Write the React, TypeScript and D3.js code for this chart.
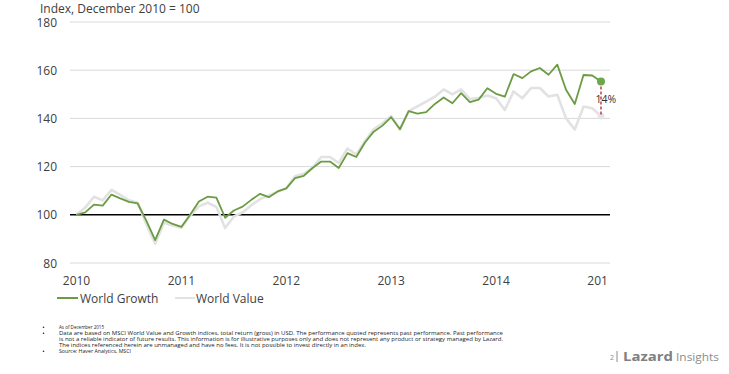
import React from 'react';
import * as d3 from 'd3';

const yearLabels = ['2010', '2011', '2012', '2013', '2014', '2015'];
const yTicks = [80, 100, 120, 140, 160, 180];

// monthly index values, Dec 2010 = 100
const worldGrowth = [
  100, 101, 104.2, 103.8, 108.4, 106.8, 105.4, 104.7, 97.5, 89.5,
  98, 96.2, 95, 100, 105.5, 107.5, 107.1, 98.8, 101.8, 103.4,
  106.2, 108.7, 107.3, 109.7, 111, 115.2, 116.2, 119.4, 122.1, 122.1,
  119.4, 125.6, 124, 130, 134.5, 137, 140.5, 135.5, 143, 142,
  142.6, 146, 148.7, 146.3, 150.5, 146.8, 147.8, 152.5, 150.2, 149,
  158.4, 156.7, 159.5, 160.9, 158.1, 162.3, 151.9, 146, 158, 157.8,
  155.3,
];
const worldValue = [
  100, 103, 107.5, 106, 110.4, 108.3, 106, 105, 96, 88,
  96.7, 95.6, 94.6, 99.6, 103.5, 105, 103.3, 94.5, 99.3, 101,
  104, 106.5, 108, 109.5, 111, 116, 117, 119.5, 124, 124,
  121.5, 127.5, 125, 130.5, 135.5, 138, 141, 135.5, 143, 145,
  147, 149, 152, 150, 152, 148, 148.5, 149.5, 148.4, 143.5,
  151.2, 148.4, 152.6, 152.6, 149.1, 149.8, 140, 135.4, 144.9, 144.2,
  141,
];
const spreadLabel = '14%';

const footnotes = [
  ['As of December 2015'],
  [
    'Data are based on MSCI World Value and Growth indices, total return (gross) in USD. The performance quoted represents past performance. Past performance',
    'is not a reliable indicator of future results. This information is for illustrative purposes only and does not represent any product or strategy managed by Lazard.',
    'The indices referenced herein are unmanaged and have no fees. It is not possible to invest directly in an index.',
  ],
  ['Source: Haver Analytics, MSCI'],
];
const footWidths = [[45], [444, 444, 307], [72]];

const W = 729;
const H = 374;
const GREEN = '#6b9c43';
const GRAY = '#e2e2e2';
const FONT = '"Open Sans", "Noto Sans", sans-serif';

export default function App() {
  const x = d3.scaleLinear().domain([0, worldGrowth.length - 1]).range([76.5, 601]);
  const y = d3.scaleLinear().domain([80, 180]).range([263, 22]);

  const line = d3
    .line<number>()
    .x((_, i) => x(i))
    .y((d) => y(d));

  const last = worldGrowth.length - 1;
  let lineNo = 0;

  return (
    <div style={{ position: 'absolute', left: 0, top: 0 }}>
      <svg width={W} height={H} style={{ display: 'block', background: '#fff' }} fontFamily={FONT}>
        <defs>
          <clipPath id="xclip">
            <rect x={0} y={0} width={606} height={H} />
          </clipPath>
        </defs>

        <text x={40} y={13} fontSize={12} fill="#404040">
          Index, December 2010 = 100
        </text>

        {/* grid + y labels */}
        {yTicks.map((t) => (
          <g key={t}>
            <line
              x1={70}
              x2={610}
              y1={y(t)}
              y2={y(t)}
              stroke={t === 100 ? '#000' : '#d9d9d9'}
              strokeWidth={t === 100 ? 1.5 : 1}
            />
            <text x={57} y={y(t) + 4.5} textAnchor="end" fontSize={12} fill="#404040">
              {t}
            </text>
          </g>
        ))}

        {/* x labels */}
        <g clipPath="url(#xclip)">
          {yearLabels.map((lab, k) => (
            <text key={lab} x={x(k * 12)} y={285} textAnchor="middle" fontSize={12} fill="#404040">
              {lab}
            </text>
          ))}
        </g>

        <path d={line(worldValue) || ''} fill="none" stroke={GRAY} strokeWidth={2.6} strokeLinejoin="round" />
        <path d={line(worldGrowth) || ''} fill="none" stroke={GREEN} strokeWidth={1.8} strokeLinejoin="round" />

        {/* spread annotation */}
        <circle cx={x(last)} cy={y(worldValue[last])} r={3.5} fill="#e6e6e6" />
        <text x={595.5} y={103} fontSize={10.5} fill="#333">
          {spreadLabel}
        </text>
        <line
          x1={x(last)}
          x2={x(last)}
          y1={y(worldGrowth[last])}
          y2={y(worldValue[last])}
          stroke="#a3112e"
          strokeWidth={1.2}
          strokeDasharray="3,2"
        />
        <circle cx={x(last)} cy={y(worldGrowth[last])} r={4} fill="#6aa84a" />

        {/* legend */}
        <line x1={57} x2={78} y1={298} y2={298} stroke={GREEN} strokeWidth={2} />
        <text x={80} y={302.5} fontSize={12} fill="#404040">
          World Growth
        </text>
        <line x1={175} x2={195} y1={298} y2={298} stroke={GRAY} strokeWidth={2} />
        <text x={196} y={302.5} fontSize={12} fill="#404040">
          World Value
        </text>

        {/* footnotes */}
        {footnotes.map((block, b) => (
          <g key={b}>
            <circle cx={43.5} cy={327.3 + lineNo * 6} r={0.8} fill="#222" />
            {block.map((ln, j) => {
              const yy = 329 + lineNo * 6;
              lineNo += 1;
              return (
                <text
                  key={j}
                  x={59}
                  y={yy}
                  fontSize={5}
                  fill="#222"
                  textLength={footWidths[b][j]}
                  lengthAdjust="spacingAndGlyphs"
                >
                  {ln}
                </text>
              );
            })}
          </g>
        ))}

        {/* page footer */}
        <text x={610} y={360} fontSize={7} fill="#8c8c8c">
          2
        </text>
        <line x1={617} x2={617} y1={351} y2={362} stroke="#8c8c8c" strokeWidth={1} />
        <text
          x={623}
          y={361}
          fontSize={11.5}
          fill="#808080"
          fontWeight="bold"
          textLength={50}
          lengthAdjust="spacingAndGlyphs"
        >
          Lazard
        </text>
        <text x={676} y={361} fontSize={11.5} fill="#8c8c8c" textLength={43} lengthAdjust="spacingAndGlyphs">
          Insights
        </text>
      </svg>
    </div>
  );
}
